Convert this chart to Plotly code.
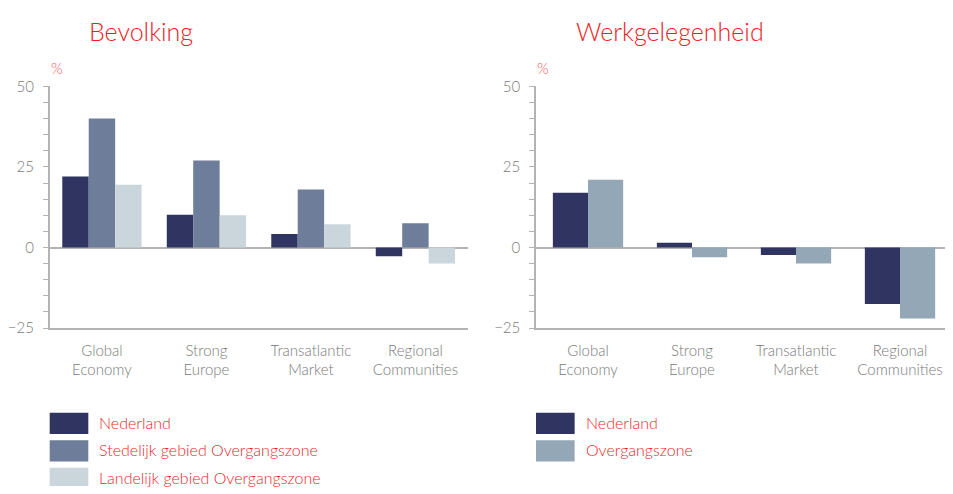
import plotly.graph_objects as go

# Page body has an 8px default margin; the figure is sized to fill the rest.
OFF = 8
W, H = 953 - OFF, 494 - OFF

categories = ["Global<br>Economy", "Strong<br>Europe", "Transatlantic<br>Market", "Regional<br>Communities"]

# Bevolking (population change, %)
bev_series = ["Nederland", "Stedelijk gebied Overgangszone", "Landelijk gebied Overgangszone"]
bev_nederland = [22, 10.2, 4.2, -2.7]
bev_stedelijk = [40, 27, 18, 7.5]
bev_landelijk = [19.5, 10, 7.2, -5]

# Werkgelegenheid (employment change, %)
werk_series = ["Nederland", "Overgangszone"]
werk_nederland = [17, 1.5, -2.3, -17.5]
werk_overgang = [21, -3, -5, -22]

y_ticks = [-25, 0, 25, 50]

bev_colors = ["#2f3460", "#6e7d99", "#cbd5dc"]
werk_colors = ["#2f3460", "#94a7b6"]

RED = "#ee1c25"
RED_LEG = "#ec1f2b"
GRAY = "#7a7a7a"
LINE = "#b3b3b3"
FONT = "Lato"
WT = 300

def px(x):
    return (x - OFF) / W

def py(y):
    return 1 - (y - OFF) / H

fig = go.Figure()

bev_vals = [bev_nederland, bev_stedelijk, bev_landelijk]
bw = 0.253
for i, (name, vals, col) in enumerate(zip(bev_series, bev_vals, bev_colors)):
    fig.add_trace(go.Bar(x=categories, y=vals, name=name, marker=dict(color=col, line=dict(width=0)),
                         width=bw, offset=-1.5 * bw + i * bw, xaxis="x", yaxis="y", showlegend=False))

werk_vals = [werk_nederland, werk_overgang]
bw2 = 0.338
for i, (name, vals, col) in enumerate(zip(werk_series, werk_vals, werk_colors)):
    fig.add_trace(go.Bar(x=categories, y=vals, name=name, marker=dict(color=col, line=dict(width=0)),
                         width=bw2, offset=-bw2 + i * bw2, xaxis="x2", yaxis="y2", showlegend=False))

ydom = [py(330), py(79)]
yax = dict(range=[-25, 50], tickvals=y_ticks, ticks="outside", ticklen=5, tickcolor=LINE,
           showline=True, linecolor=LINE, linewidth=1.5, showgrid=False,
           zeroline=True, zerolinecolor=LINE, zerolinewidth=1.5,
           tickfont=dict(family=FONT, size=15, color=GRAY, weight=WT), ticklabelstandoff=6,
           minor=dict(dtick=5, tick0=0, ticks="outside", ticklen=5, tickcolor=LINE, showgrid=False),
           domain=ydom, fixedrange=True)
xax = dict(showline=True, linecolor=LINE, linewidth=1.5, ticks="", showgrid=False,
           tickfont=dict(family=FONT, size=15, color=GRAY, weight=WT), ticklabelstandoff=8,
           fixedrange=True)

fig.update_layout(
    width=W, height=H, autosize=False,
    margin=dict(l=0, r=0, t=0, b=0),
    paper_bgcolor="white", plot_bgcolor="white",
    barmode="overlay",
    font=dict(family=FONT, color=GRAY),
    xaxis=dict(xax, domain=[px(41), px(463)], anchor="y"),
    yaxis=dict(yax, anchor="x"),
    xaxis2=dict(xax, domain=[px(532), px(952)], anchor="y2"),
    yaxis2=dict(yax, anchor="x2"),
)

annotations = [
    dict(text="Bevolking", x=px(79), y=py(22), xanchor="left", yanchor="middle",
         font=dict(family=FONT, size=25, color=RED, weight=WT)),
    dict(text="Werkgelegenheid", x=px(570), y=py(22), xanchor="left", yanchor="middle",
         font=dict(family=FONT, size=25, color=RED, weight=WT)),
    dict(text="%", x=px(40), y=py(60), xanchor="left", yanchor="middle",
         font=dict(family=FONT, size=15, color="#f25a5f", weight=WT)),
    dict(text="%", x=px(531), y=py(60), xanchor="left", yanchor="middle",
         font=dict(family=FONT, size=15, color="#f25a5f", weight=WT)),
]
shapes = []

def add_legend(names, colors, x0):
    for i, (n, c) in enumerate(zip(names, colors)):
        top = 418 + i * 28.5
        bottom = min(top + 22, 494)
        shapes.append(dict(type="rect", xref="paper", yref="paper", x0=px(x0), x1=px(x0 + 39),
                           y0=py(bottom), y1=py(top), fillcolor=c, line=dict(width=0)))
        annotations.append(dict(text=n, x=px(x0 + 48), y=py(top + 10), xanchor="left", yanchor="middle",
                                font=dict(family=FONT, size=16, color=RED_LEG, weight=WT)))

add_legend(bev_series, bev_colors, 41)
add_legend(werk_series, werk_colors, 532)

for a in annotations:
    a.update(xref="paper", yref="paper", showarrow=False)

fig.update_layout(annotations=annotations, shapes=shapes)

fig.write_html("out.html", config={"displayModeBar": False})
